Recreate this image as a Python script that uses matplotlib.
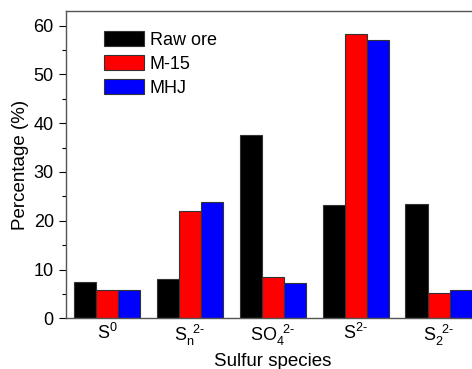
import numpy as np
import matplotlib
matplotlib.use("Agg")
import matplotlib.pyplot as plt
from matplotlib.ticker import MultipleLocator

species = [r"$\mathregular{S^0}$", r"$\mathregular{S_n^{\ \,2\text{-}}}$", r"$\mathregular{SO_4^{\ \,2\text{-}}}$",
           r"$\mathregular{S^{2\text{-}}}$", r"$\mathregular{S_2^{\ \,2\text{-}}}$"]
raw_ore = [7.5, 8.1, 37.6, 23.2, 23.4]
m15 = [5.9, 22.0, 8.5, 58.3, 5.2]
mhj = [5.75, 23.8, 7.3, 57.1, 5.8]

series = [("Raw ore", raw_ore, "black"), ("M-15", m15, "red"), ("MHJ", mhj, "blue")]

plt.rcParams["font.family"] = ["Liberation Sans", "DejaVu Sans"]
plt.rcParams["mathtext.fontset"] = "custom"
plt.rcParams["mathtext.rm"] = "Liberation Sans"

fig = plt.figure(figsize=(4.72, 3.69), dpi=100)
ax = fig.add_axes([0.139, 0.1374, 0.878, 0.833])

x = np.arange(len(species))
w = 0.267
for i, (name, vals, col) in enumerate(series):
    ax.bar(x + (i - 1) * w, vals, w, color=col, edgecolor="#333333", linewidth=0.8, label=name)

ax.set_xlim(-0.5, 4.5)
ax.set_ylim(0, 63)
ax.set_xticks(x)
ax.set_xticklabels(species, fontsize=13)
ax.tick_params(axis="x", length=0, pad=3)
ax.yaxis.set_major_locator(MultipleLocator(10))
ax.yaxis.set_minor_locator(MultipleLocator(5))
ax.tick_params(axis="y", which="major", direction="out", length=5, labelsize=13, width=0.8)
ax.tick_params(axis="y", which="minor", direction="out", length=3, width=0.8)
ax.tick_params(axis="y", right=False)
for s in ax.spines.values():
    s.set_color("#555555")
    s.set_linewidth(1.0)

ax.set_xlabel("Sulfur species", fontsize=13.5)
ax.xaxis.set_label_coords(0.5, -0.112)
ax.set_ylabel("Percentage (%)", fontsize=13.5, labelpad=3)

ax.legend(loc="upper left", bbox_to_anchor=(0.092, 0.935), frameon=False, fontsize=13,
          borderpad=0, borderaxespad=0, handlelength=2.25, handleheight=0.95,
          handletextpad=0.3, labelspacing=0.33)

fig.savefig("out.png", dpi=100)
